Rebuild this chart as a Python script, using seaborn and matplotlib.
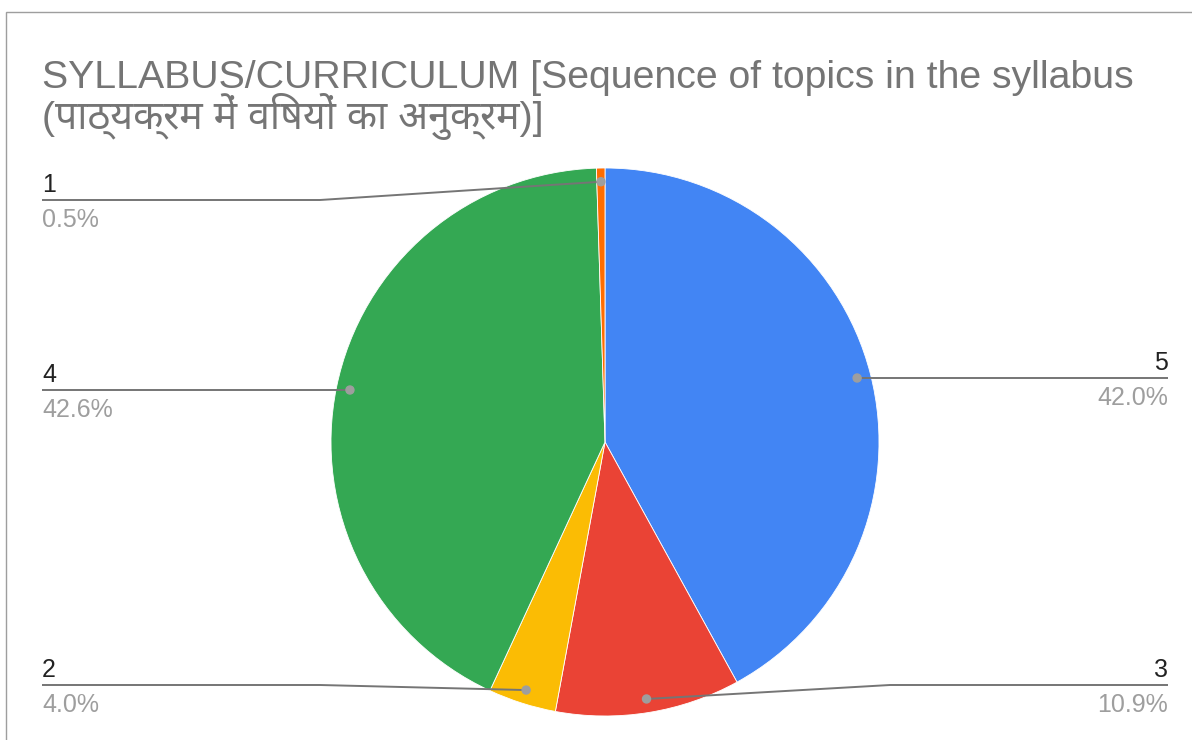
import matplotlib
matplotlib.use("Agg")
import matplotlib.pyplot as plt
from matplotlib.patches import Rectangle, Circle
import numpy as np
import seaborn as sns


# Data (clockwise from 12 o'clock)
labels = ["5", "3", "2", "4", "1"]
shares = [42.0, 10.9, 4.0, 42.6, 0.5]
colors = ["#4285F4", "#EA4335", "#FBBC04", "#34A853", "#FF6D01"]
title_lines = ["SYLLABUS/CURRICULUM [Sequence of topics in the syllabus",
               "(पाठ्यक्रम में विषयों का अनुक्रम)]"]

W, H = 1192, 740

sns.set_theme(style="white")
plt.rcParams["font.family"] = ["Liberation Sans", "Noto Sans", "DejaVu Sans"]

fig = plt.figure(figsize=(W / 100, H / 100), dpi=100)
ax = fig.add_axes([0, 0, 1, 1])


def py(y):
  # image rows are counted from the top
  return H - y


cx, cy, r = 605, py(442), 274
wedges, _ = ax.pie(shares, colors=colors, startangle=90, counterclock=False,
                   center=(cx, cy), radius=r, frame=True,
                   wedgeprops=dict(edgecolor="white", linewidth=0.6))
ax.set_xlim(0, W)
ax.set_ylim(0, H)
ax.set_aspect("equal")
ax.axis("off")

# chart frame (cropped google-sheets border)
ax.add_patch(Rectangle((6, -10), W + 20, py(12) + 10, fill=False,
                       edgecolor="#9e9e9e", lw=1.0))

# label layout: (side, line row in image pixels, elbow x)
layout = {
  "5": ("right", 378, None),
  "3": ("right", 685, 890),
  "2": ("left", 685, 320),
  "4": ("left", 390, None),
  "1": ("left", 200, 320),
}

line_col = "#757575"
for w, lab, val in zip(wedges, labels, shares):
  mid = np.deg2rad((w.theta1 + w.theta2) / 2)
  dx = cx + 0.95 * r * np.cos(mid)
  dy = cy + 0.95 * r * np.sin(mid)
  side, row, elbow = layout[lab]
  end_x = 1168 if side == "right" else 42
  ly = py(row)
  if elbow:
    xs, ys = [dx, elbow, end_x], [dy, ly, ly]
  else:
    xs, ys = [dx, end_x], [ly, ly]
  ax.plot(xs, ys, color=line_col, lw=1.4, solid_capstyle="butt", zorder=3)
  ax.add_patch(Circle((dx, ys[0]), 4, color="#9e9e9e", zorder=4))
  ha = "right" if side == "right" else "left"
  ax.text(end_x, ly + 8, lab, ha=ha, va="baseline", fontsize=18,
          color="#222222")
  ax.text(end_x, ly - 8, f"{val:.1f}%", ha=ha, va="top", fontsize=18,
          color="#9e9e9e")

ax.text(42, py(88), title_lines[0], ha="left", va="baseline", fontsize=28.3,
        color="#757575")
ax.text(42, py(129), title_lines[1], ha="left", va="baseline", fontsize=28.3,
        color="#757575")

fig.savefig("out.png", dpi=100)
